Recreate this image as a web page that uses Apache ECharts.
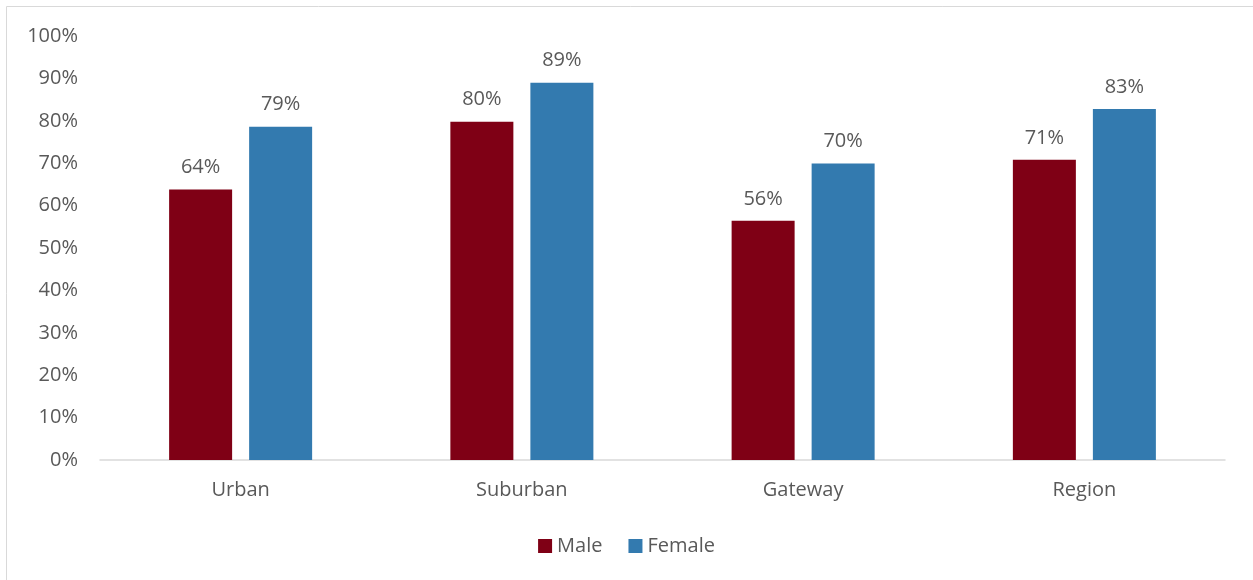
<!DOCTYPE html>
<html><head><meta charset="utf-8">
<script src="https://cdn.jsdelivr.net/npm/echarts@6/dist/echarts.min.js"></script>
<style>html,body{margin:0;padding:0;background:#fff}#c{width:1253px;height:580px}</style>
</head><body><div id="c"></div>
<script>
const categories = ['Urban', 'Suburban', 'Gateway', 'Region'];
const maleValues = [63.8, 79.8, 56.4, 70.8];
const femaleValues = [78.6, 89.0, 69.9, 82.8];
const seriesNames = ['Male', 'Female'];
const yTicks = [0, 10, 20, 30, 40, 50, 60, 70, 80, 90, 100];

const font = '"Open Sans", Lato, sans-serif';
const textColor = '#595959';
const chart = echarts.init(document.getElementById('c'));
const labelCfg = {show: true, position: 'top', distance: 12, color: textColor, fontSize: 20, fontFamily: font,
  formatter: p => Math.round(p.value) + '%'};
chart.setOption({
  animation: false,
  graphic: [{type: 'rect', shape: {x: 6.5, y: 6.5, width: 1300, height: 700}, style: {fill: 'none', stroke: '#d9d9d9', lineWidth: 1}, silent: true}],
  grid: {left: 100, right: 28, top: 36, bottom: 120, containLabel: false},
  legend: {data: seriesNames, bottom: 19, left: 'center', itemWidth: 14, itemHeight: 14, itemGap: 26,
    textStyle: {color: textColor, fontSize: 20, fontFamily: font}, icon: 'rect'},
  xAxis: {type: 'category', data: categories,
    axisLine: {lineStyle: {color: '#d9d9d9', width: 1.5}}, axisTick: {show: false},
    axisLabel: {color: textColor, fontSize: 20, fontFamily: font, margin: 20}},
  yAxis: {type: 'value', min: yTicks[0], max: yTicks[yTicks.length - 1], interval: 10,
    axisLine: {show: false}, axisTick: {show: false}, splitLine: {show: false},
    axisLabel: {color: textColor, fontSize: 20, fontFamily: font, margin: 22, formatter: v => v + '%'}},
  series: [
    {name: seriesNames[0], type: 'bar', data: maleValues, barWidth: 63, barGap: '27%', itemStyle: {color: '#7F0015'}, label: labelCfg},
    {name: seriesNames[1], type: 'bar', data: femaleValues, barWidth: 63, itemStyle: {color: '#337AAF'}, label: labelCfg}
  ]
});
</script></body></html>
